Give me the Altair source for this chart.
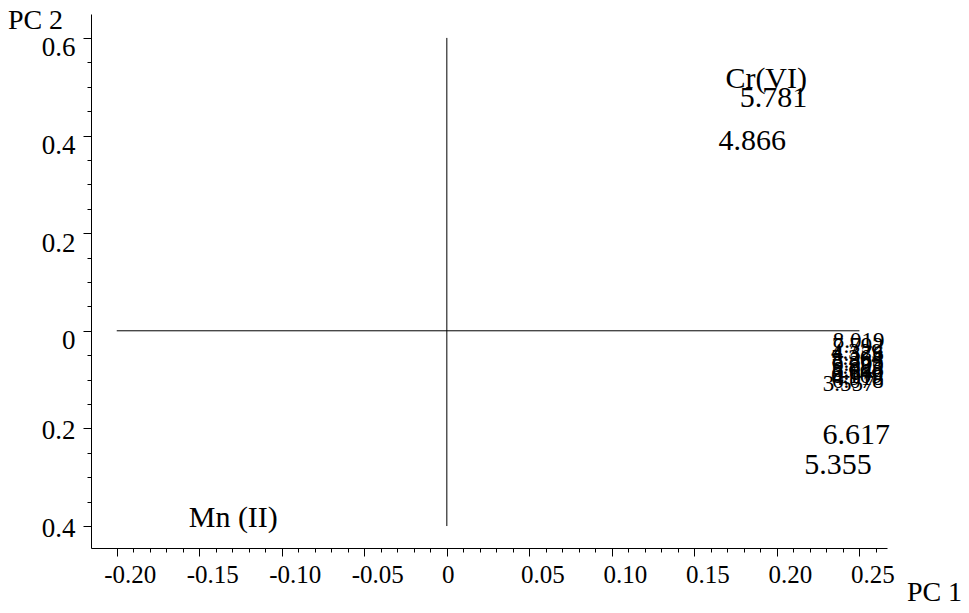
import altair as alt
import numpy as np
import pandas as pd

# Loadings plot: principal component 1 vs principal component 2
big_labels = ["Cr(VI)", "5.781", "4.866", "6.617", "5.355", "Mn (II)"]
big_pc1 = [0.1935, 0.198, 0.185, 0.248, 0.237, -0.1294]
big_pc2 = [0.516, 0.477, 0.389, -0.213, -0.275, -0.383]

small_labels = ["8.019", "7.792", "4.329", "4.376", "5.264", "5.383", "6.205",
                "5.885", "6.046", "5.642", "6.109", "4.918", "6.078", "3.557"]
small_pc1 = [0.2495, 0.2490, 0.2485, 0.2490, 0.2485, 0.2490, 0.2490,
             0.2485, 0.2490, 0.2490, 0.2485, 0.2490, 0.2490, 0.2435]
small_pc2 = [-0.021, -0.032, -0.043, -0.048, -0.056, -0.062, -0.068,
             -0.074, -0.080, -0.086, -0.092, -0.097, -0.102, -0.110]

# Reference cross through the origin
hline_x = [-0.20]
hline_x2 = [0.25]
vline_y = [-0.40]
vline_y2 = [0.60]

x_ticks = [round(v, 2) for v in np.arange(-0.20, 0.265, 0.01)]
y_ticks = [round(v, 2) for v in np.arange(-0.40, 0.605, 0.05)]

X_DOMAIN = [-0.2156, 0.2667]
Y_DOMAIN = [-0.445, 0.649]
FONT = "Liberation Serif"

x_major = "abs(datum.value*20 - round(datum.value*20)) < 0.001"
y_major = "abs(datum.value*5 - round(datum.value*5)) < 0.001"

x_axis = alt.Axis(
    values=x_ticks,
    tickCount=200,
    title="PC 1",
    titleFont=FONT, titleFontSize=28, titleFontWeight="normal", titleColor="black",
    titleAngle=0, titleX=843, titleY=44, titleAlign="center", titleBaseline="middle",
    labelExpr=f"{x_major} ? (abs(datum.value) < 0.001 ? '0' : (datum.value < 0 ? '-' : '') + format(abs(datum.value), '.2f')) : ''",
    labelFont=FONT, labelFontSize=25, labelColor="black",
    labelAlign="center", labelBaseline="top", labelPadding=6,
    labelOffset={"condition": {"test": "abs(datum.value) < 0.001", "value": 1}, "value": 13},
    labelOverlap=False, labelFlush=False, labelBound=False,
    tickSize={"condition": {"test": x_major, "value": 8}, "value": 4},
    tickColor="black", tickWidth=1, domainColor="black", domainWidth=1,
    grid=False,
)

y_axis = alt.Axis(
    values=y_ticks,
    tickCount=200,
    title="PC 2",
    titleFont=FONT, titleFontSize=28, titleFontWeight="normal", titleColor="black",
    titleAngle=0, titleX=-56, titleY=6, titleAlign="center", titleBaseline="middle",
    labelExpr=f"{y_major} ? (abs(datum.value) < 0.001 ? '0' : format(abs(datum.value), '.1f')) : ''",
    labelFont=FONT, labelFontSize=27, labelColor="black",
    labelAlign="right", labelBaseline="middle", labelPadding=8,
    labelOffset={"condition": {"test": "datum.value > -0.001", "value": 10}, "value": 2},
    labelOverlap=False, labelFlush=False, labelBound=False,
    tickSize={"condition": {"test": y_major, "value": 8}, "value": 4},
    tickColor="black", tickWidth=1, domainColor="black", domainWidth=1,
    grid=False,
)

x_scale = alt.Scale(domain=X_DOMAIN, nice=False, zero=False)
y_scale = alt.Scale(domain=Y_DOMAIN, nice=False, zero=False)

big_df = pd.DataFrame({"pc1": big_pc1, "pc2": big_pc2, "label": big_labels})
small_df = pd.DataFrame({"pc1": small_pc1, "pc2": small_pc2, "label": small_labels})
h_df = pd.DataFrame({"x": hline_x, "x2": hline_x2, "y": [0.0]})
v_df = pd.DataFrame({"y": vline_y, "y2": vline_y2, "x": [0.0]})

hline = alt.Chart(h_df).mark_rule(color="black", strokeWidth=1).encode(
    x=alt.X("x:Q", scale=x_scale, axis=x_axis),
    x2="x2:Q",
    y=alt.Y("y:Q", scale=y_scale, axis=y_axis),
)
vline = alt.Chart(v_df).mark_rule(color="black", strokeWidth=1).encode(
    x=alt.X("x:Q", scale=x_scale),
    y=alt.Y("y:Q", scale=y_scale),
    y2="y2:Q",
)

big_text = alt.Chart(big_df).mark_text(
    font=FONT, fontSize=30, color="black", align="center", baseline="middle"
).encode(
    x=alt.X("pc1:Q", scale=x_scale),
    y=alt.Y("pc2:Q", scale=y_scale),
    text="label:N",
)
small_text = alt.Chart(small_df).mark_text(
    font=FONT, fontSize=23, color="black", align="center", baseline="middle"
).encode(
    x=alt.X("pc1:Q", scale=x_scale),
    y=alt.Y("pc2:Q", scale=y_scale),
    text="label:N",
)

chart = alt.layer(hline, vline, big_text, small_text).properties(
    width=796,
    height=534,
    autosize=alt.AutoSizeParams(type="none"),
    padding={"left": 91, "top": 14, "right": 82, "bottom": 65},
    background="white",
).configure_view(stroke=None)

chart.save("out.html", embed_options={"renderer": "svg", "actions": False})
